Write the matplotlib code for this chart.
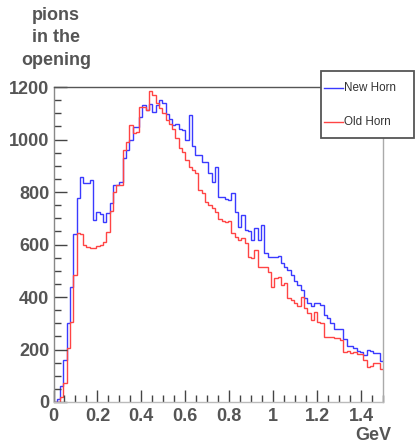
import numpy as np
import matplotlib
matplotlib.use('Agg')
import matplotlib.pyplot as plt
from matplotlib.patches import Rectangle
from matplotlib.lines import Line2D
from matplotlib.ticker import MultipleLocator, FuncFormatter

# 100 bins of 15 MeV from 0 to 1.5 GeV
bin_edges = np.linspace(0.0, 1.5, 101)

new_horn = [
    0, 10, 61, 160, 302, 439, 640, 778, 858, 833,
    833, 846, 693, 725, 715, 687, 721, 757, 827, 827,
    839, 928, 960, 998, 1049, 1049, 1087, 1131, 1112, 1134,
    1106, 1131, 1150, 1140, 1099, 1080, 1055, 1060, 1040, 1035,
    998, 1093, 975, 941, 941, 915, 915, 871, 839, 897,
    781, 781, 775, 770, 797, 725, 668, 712, 655, 650,
    617, 661, 617, 674, 566, 553, 553, 553, 556, 530,
    516, 503, 484, 460, 446, 427, 395, 376, 366, 376,
    376, 370, 332, 319, 300, 277, 277, 277, 241, 213,
    215, 204, 196, 190, 179, 198, 196, 185, 185, 157,
]

old_horn = [
    0, 1, 20, 73, 204, 306, 484, 642, 640, 600,
    592, 585, 585, 596, 600, 610, 648, 726, 800, 827,
    827, 960, 989, 1055, 1026, 1030, 1124, 1124, 1112, 1184,
    1169, 1138, 1121, 1100, 1074, 1060, 1040, 1004, 966, 953,
    922, 897, 884, 871, 808, 795, 763, 751, 740, 725,
    698, 690, 687, 690, 642, 630, 617, 625, 604, 553,
    550, 579, 516, 516, 516, 497, 440, 471, 478, 446,
    455, 395, 389, 376, 364, 400, 357, 338, 312, 344,
    306, 300, 249, 249, 248, 242, 245, 236, 191, 195,
    188, 192, 183, 183, 160, 132, 137, 150, 150, 125,
]

series_names = ['New Horn', 'Old Horn']
series_colors = ['#3a3aff', '#ff4444']

plt.rcParams['font.family'] = ['Liberation Sans', 'DejaVu Sans']
TXT = '#555555'

W, H = 415, 443
fig = plt.figure(figsize=(W / 100, H / 100), dpi=100)
ax = fig.add_axes([53.5 / W, 1 - 402 / H, (383 - 53.5) / W, (402 - 87) / H])

for vals, col in zip([new_horn, old_horn], series_colors):
    ax.stairs(vals, bin_edges, color=col, lw=1.0, baseline=None)

ax.set_xlim(0, 1.5)
ax.set_ylim(0, 1200)

ax.xaxis.set_major_locator(MultipleLocator(0.2))
ax.xaxis.set_minor_locator(MultipleLocator(0.05))
ax.yaxis.set_major_locator(MultipleLocator(200))
ax.yaxis.set_minor_locator(MultipleLocator(50))
ax.xaxis.set_major_formatter(FuncFormatter(lambda v, p: f'{v:g}'))
ax.yaxis.set_major_formatter(FuncFormatter(lambda v, p: f'{v:g}'))

ax.tick_params(which='both', direction='in', color='#444444', width=1.0,
               labelsize=13, labelcolor=TXT)
ax.tick_params(which='major', length=9)
ax.tick_params(which='minor', length=5)
ax.tick_params(axis='x', pad=4)
ax.tick_params(axis='y', pad=3)
for lab in ax.get_xticklabels() + ax.get_yticklabels():
    lab.set_fontweight('bold')

ax.spines['top'].set_color('#555555')
ax.spines['left'].set_color('#888888')
ax.spines['bottom'].set_color('#bbbbbb')
ax.spines['right'].set_color('#aaaaaa')
for s in ax.spines.values():
    s.set_linewidth(1.0)

fig.text(56 / W, 1 - 38 / H, 'pions\nin the\nopening', ha='center', va='center',
         fontsize=13, fontweight='bold', color=TXT, linespacing=1.4)
fig.text(373 / W, 1 - 436 / H, 'GeV', ha='center', va='center',
         fontsize=13, fontweight='bold', color=TXT)

# legend box in the top-right corner, drawn over the axes frame
fig.patches.append(Rectangle((321 / W, 1 - 138 / H), (414 - 321) / W, (138 - 71) / H,
                             transform=fig.transFigure, facecolor='white',
                             edgecolor='#555555', lw=1.3, zorder=5))
for name, col, yy in zip(series_names, series_colors, [88, 122]):
    fig.lines.append(Line2D([324 / W, 343 / W], [1 - yy / H, 1 - yy / H],
                            transform=fig.transFigure, color=col, lw=1.0, zorder=6))
    fig.text(344 / W, 1 - yy / H, name, ha='left', va='center', fontsize=8.4,
             color='#333333', zorder=7)

fig.savefig('out.png', dpi=100)
